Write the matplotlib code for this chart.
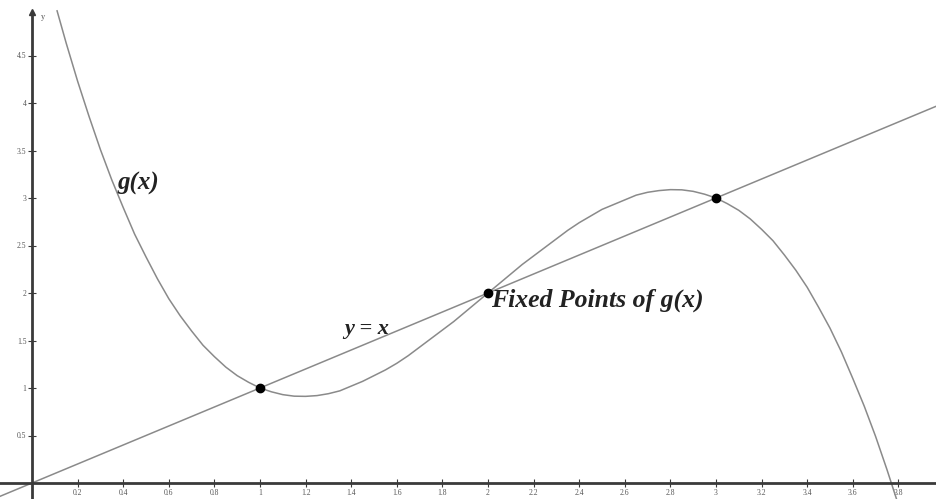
import matplotlib
matplotlib.use("Agg")
import matplotlib.pyplot as plt

# g(x)
gx = [0.11, 0.15, 0.2, 0.25, 0.3, 0.35, 0.4, 0.45, 0.5, 0.55, 0.6, 0.65, 0.7,
      0.75, 0.8, 0.85, 0.9, 0.95, 1.0, 1.05, 1.1, 1.15, 1.2, 1.25, 1.3, 1.35,
      1.4, 1.45, 1.5, 1.55, 1.6, 1.65, 1.7, 1.75, 1.8, 1.85, 1.9, 1.95, 2.0,
      2.05, 2.1, 2.15, 2.2, 2.25, 2.3, 2.35, 2.4, 2.45, 2.5, 2.55, 2.6, 2.65,
      2.7, 2.75, 2.8, 2.85, 2.9, 2.95, 3.0, 3.05, 3.1, 3.15, 3.2, 3.25, 3.3,
      3.35, 3.4, 3.45, 3.5, 3.55, 3.6, 3.65, 3.7, 3.75, 3.8]
gy = [4.97, 4.63, 4.23, 3.86, 3.51, 3.19, 2.90, 2.62, 2.38, 2.15, 1.94, 1.76,
      1.60, 1.45, 1.33, 1.22, 1.13, 1.06, 1.00, 0.96, 0.93, 0.914, 0.912,
      0.92, 0.94, 0.97, 1.02, 1.07, 1.13, 1.19, 1.26, 1.34, 1.43, 1.52, 1.61,
      1.70, 1.80, 1.90, 2.00, 2.10, 2.20, 2.30, 2.39, 2.48, 2.57, 2.66, 2.74,
      2.81, 2.88, 2.93, 2.98, 3.03, 3.06, 3.078, 3.088, 3.086, 3.07, 3.04,
      3.00, 2.94, 2.87, 2.78, 2.67, 2.55, 2.40, 2.24, 2.06, 1.85, 1.63, 1.38,
      1.10, 0.81, 0.49, 0.14, -0.23]

# line y = x
line_x = [-0.2, 4.0]
line_y = [-0.2, 4.0]

# fixed points
fixed_x = [1, 2, 3]
fixed_y = [1, 2, 3]

xticks = [0.2, 0.4, 0.6, 0.8, 1, 1.2, 1.4, 1.6, 1.8, 2, 2.2, 2.4, 2.6, 2.8,
          3, 3.2, 3.4, 3.6, 3.8]
xtick_labels = ['0.2', '0.4', '0.6', '0.8', '1', '1.2', '1.4', '1.6', '1.8',
                '2', '2.2', '2.4', '2.6', '2.8', '3', '3.2', '3.4', '3.6', '3.8']
yticks = [0.5, 1, 1.5, 2, 2.5, 3, 3.5, 4, 4.5]
ytick_labels = ['0.5', '1', '1.5', '2', '2.5', '3', '3.5', '4', '4.5']

serif = ['Liberation Serif', 'DejaVu Serif']
curve_col = '#8a8a8a'
axis_col = '#3a3a3a'

fig = plt.figure(figsize=(9.37, 4.99), dpi=100)
ax = fig.add_axes([0, 0, 1, 1])
ax.set_xlim(-32 / 228, 905 / 228)
ax.set_ylim(-16 / 95, 483 / 95)

ax.plot(line_x, line_y, color=curve_col, lw=1.1)
ax.plot(gx, gy, color=curve_col, lw=1.1)
ax.plot(fixed_x, fixed_y, 'o', color='black', ms=6)

# axes through the origin
for s in ['top', 'right']:
    ax.spines[s].set_visible(False)
ax.spines['left'].set_position(('data', 0))
ax.spines['bottom'].set_position(('data', 0))
ax.spines['left'].set_bounds(-16 / 95, 471 / 95)
for s in ['left', 'bottom']:
    ax.spines[s].set_color(axis_col)
    ax.spines[s].set_linewidth(2)
ax.plot([0], [471 / 95], marker='^', color=axis_col, ms=5, clip_on=False)
ax.text(0.04, 466 / 95, 'y', fontsize=6, family=serif, color='#555555',
        ha='left', va='center')

ax.set_xticks(xticks)
ax.set_xticklabels(xtick_labels)
ax.set_yticks(yticks)
ax.set_yticklabels(ytick_labels)
ax.tick_params(direction='inout', length=6, width=0.8, colors=axis_col,
               labelsize=5.5, labelcolor='#555555', pad=1)
for lab in ax.get_xticklabels() + ax.get_yticklabels():
    lab.set_family(serif)

ax.text(0.465, 3.15, 'g(x)', fontsize=18, family=serif, style='italic',
        weight='bold', color='#222222', ha='center', va='center')
ax.text(1.47, 1.62, 'y = x', fontsize=16, family=serif, style='italic',
        weight='bold', color='#222222', ha='center', va='center')
ax.text(2.015, 1.92, 'Fixed Points of g(x)', fontsize=18.5, family=serif,
        style='italic', weight='bold', color='#222222', ha='left', va='center')

fig.savefig('out.png', dpi=100)
